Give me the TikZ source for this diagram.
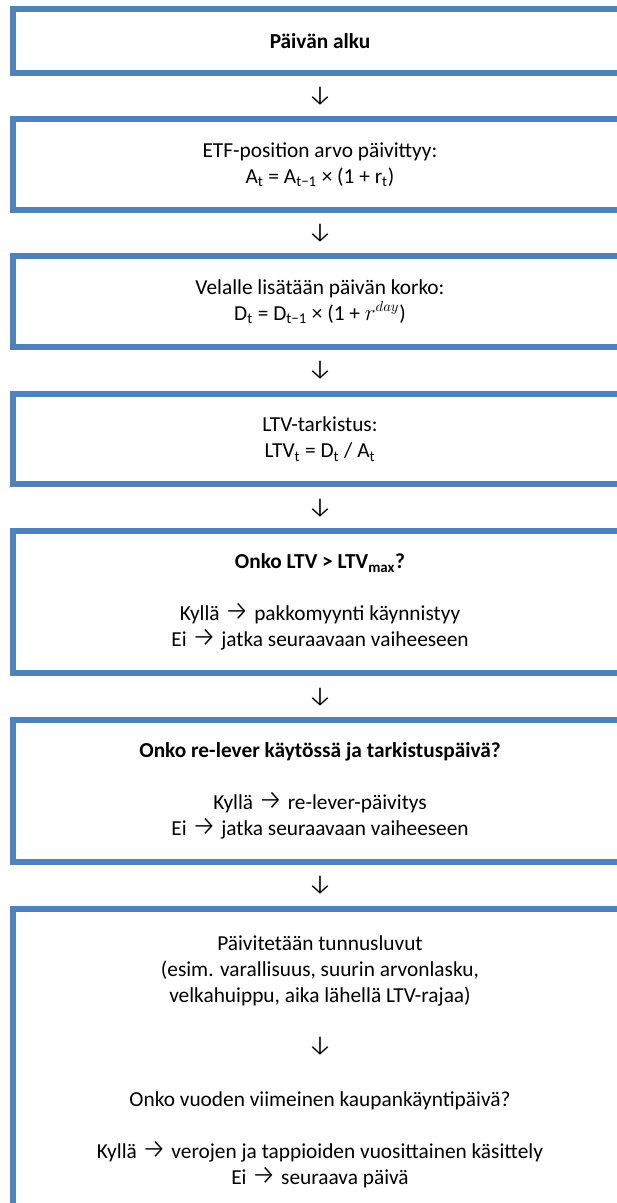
\documentclass[tikz,border=0pt]{standalone}
\usepackage{fontspec}
\setmainfont{Carlito}
\newfontfamily\arrowfont[Scale=1.3]{Fira Sans Light}
\usetikzlibrary{shapes,arrows}
\definecolor{accent}{HTML}{4F81BD}
\tikzstyle{stage} = [rectangle, draw=accent, line width=4.5pt,
    minimum width=460.5pt, align=center, inner sep=0pt]
\tikzstyle{down} = [inner sep=0pt]
\newcommand{\dn}{{\arrowfont ↓}}
\newcommand{\rt}{{\arrowfont →}}

\begin{document}
\begin{tikzpicture}[x=0.75pt, y=-0.75pt, node distance = 51.375pt,
    font=\fontsize{16pt}{19.5pt}\selectfont]
    \useasboundingbox (0,0) rectangle (617,1203);
    % Place nodes
    \node [stage, minimum height=48pt] (start) at (320,41) {\textbf{Päivän alku}};
    \node [down, below of=start, node distance=41.25pt] (a1) {\dn};
    \node [stage, below of=a1, minimum height=68.25pt] (etf) {ETF-position arvo päivittyy:\\
        A\textsubscript{t} = A\textsubscript{t−1} × (1 + r\textsubscript{t})};
    \node [down, below of=etf] (a2) {\dn};
    \node [stage, below of=a2, minimum height=68.25pt] (debt) {Velalle lisätään päivän korko:\\
        D\textsubscript{t} = D\textsubscript{t−1} × (1 + $r^{day}$)};
    \node [down, below of=debt] (a3) {\dn};
    \node [stage, below of=a3, node distance=51.75pt, minimum height=67.5pt] (ltv) {LTV-tarkistus:\\
        LTV\textsubscript{t} = D\textsubscript{t} / A\textsubscript{t}};
    \node [down, below of=ltv, node distance=51.75pt] (a4) {\dn};
    \node [stage, below of=a4, node distance=70.5pt, minimum height=106.5pt] (ltvmax)
        {\textbf{Onko LTV > LTV\textsubscript{max}?}\\[19.5pt]
        Kyllä \rt{} pakkomyynti käynnistyy\\
        Ei \rt{} jatka seuraavaan vaiheeseen};
    \node [down, below of=ltvmax, node distance=71.25pt] (a5) {\dn};
    \node [stage, below of=a5, node distance=70.5pt, minimum height=106.5pt] (relever)
        {\textbf{Onko re-lever käytössä ja tarkistuspäivä?}\\[19.5pt]
        Kyllä \rt{} re-lever-päivitys\\
        Ei \rt{} jatka seuraavaan vaiheeseen};
    \node [down, below of=relever, node distance=70.5pt] (a6) {\dn};
    \node [stage, below of=a6, node distance=132.375pt, minimum height=228.75pt] (stats)
        {Päivitetään tunnusluvut\\
        (esim. varallisuus, suurin arvonlasku,\\
        velkahuippu, aika lähellä LTV-rajaa)\\[19.5pt]
        \dn\\[19.5pt]
        Onko vuoden viimeinen kaupankäyntipäivä?\\[19.5pt]
        Kyllä \rt{} verojen ja tappioiden vuosittainen käsittely\\
        Ei \rt{} seuraava päivä};
\end{tikzpicture}
\end{document}
